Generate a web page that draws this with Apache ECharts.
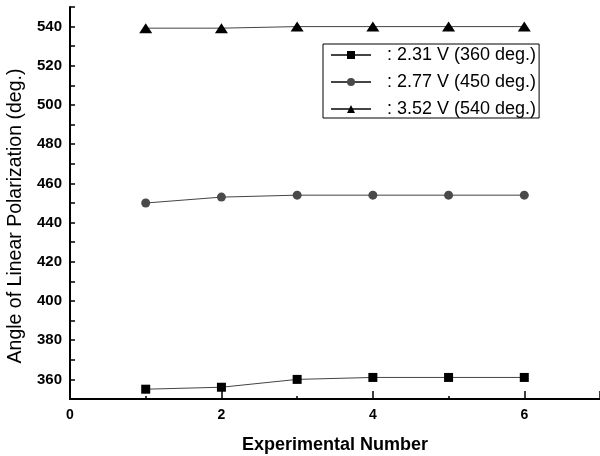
<!DOCTYPE html>
<html>
<head>
<meta charset="utf-8">
<script src="https://cdn.jsdelivr.net/npm/echarts@6/dist/echarts.min.js"></script>
<style>html,body{margin:0;padding:0;background:#fff}#c{width:600px;height:456px}</style>
</head>
<body>
<div id="c"></div>
<script>
var experiments = [1, 2, 3, 4, 5, 6];
var seriesNames = [': 2.31 V (360 deg.)', ': 2.77 V (450 deg.)', ': 3.52 V (540 deg.)'];
var values231 = [355, 356, 360, 361, 361, 361];
var values277 = [450, 453, 454, 454, 454, 454];
var values352 = [539.2, 539.2, 540, 540, 540, 540];
var xTickLabels = ['0', '2', '4', '6'];
var yTickLabels = ['360', '380', '400', '420', '440', '460', '480', '500', '520', '540'];

function pairs(vals) { return experiments.map(function (x, i) { return [x, vals[i]]; }); }

var FONT = '"Liberation Sans", Arial, sans-serif';
var chart = echarts.init(document.getElementById('c'), null, {renderer: 'canvas'});
var lineStyle = {color: '#444', width: 1};
chart.setOption({
  animation: false,
  backgroundColor: '#fff',
  grid: {left: 70, right: 0, top: 7, bottom: 57, containLabel: false, outerBoundsMode: 'none'},
  legend: {
    orient: 'vertical', left: 323, top: 44,
    padding: [2, 3, 0, 7],
    borderColor: '#000', borderWidth: 1,
    itemWidth: 40, itemHeight: 10, itemGap: 9,
    textStyle: {fontFamily: FONT, fontSize: 18, color: '#000', lineHeight: 16, padding: [0, 0, 0, 11]},
    data: seriesNames
  },
  xAxis: [{
    type: 'value', min: 0, max: 7, interval: 1,
    name: 'Experimental Number', nameLocation: 'middle', nameGap: 37,
    nameTextStyle: {fontFamily: FONT, fontSize: 18, fontWeight: 'bold', color: '#000'},
    axisLine: {show: true, lineStyle: {color: '#000', width: 2}},
    axisTick: {show: true, inside: true, length: 3, lineStyle: {color: '#000', width: 1.5}},
    axisLabel: {
      fontFamily: FONT, fontSize: 14, fontWeight: 'bold', color: '#000', margin: 9,
      formatter: function (v) { var s = String(v); return xTickLabels.indexOf(s) >= 0 ? s : ''; }
    },
    splitLine: {show: false}
  }, {
    type: 'value', min: 0, max: 7, interval: 2, position: 'bottom',
    axisLine: {show: false},
    axisTick: {show: true, inside: true, length: 8, lineStyle: {color: '#000', width: 1.5}},
    axisLabel: {show: false},
    splitLine: {show: false}
  }],
  yAxis: {
    type: 'value', min: 350, max: 550, interval: 10,
    name: 'Angle of Linear Polarization (deg.)', nameLocation: 'middle', nameGap: 41,
    nameTextStyle: {fontFamily: FONT, fontSize: 19.5, color: '#000', padding: [0, 26, 0, 0]},
    axisLine: {show: true, lineStyle: {color: '#000', width: 2}},
    axisTick: {show: true, inside: true, length: 5, lineStyle: {color: '#000', width: 1.5}},
    axisLabel: {
      fontFamily: FONT, fontSize: 15, fontWeight: 'bold', color: '#000', margin: 8,
      formatter: function (v) { var s = String(v); return yTickLabels.indexOf(s) >= 0 ? s : ''; }
    },
    splitLine: {show: false}
  },
  series: [{
    name: seriesNames[0], type: 'line', data: pairs(values231),
    symbol: 'rect', symbolSize: 9, itemStyle: {color: '#000'}, lineStyle: lineStyle
  }, {
    name: seriesNames[1], type: 'line', data: pairs(values277),
    symbol: 'circle', symbolSize: 9, itemStyle: {color: '#4a4a4a'}, lineStyle: lineStyle
  }, {
    name: seriesNames[2], type: 'line', data: pairs(values352),
    symbol: 'triangle', symbolSize: [13, 10], itemStyle: {color: '#000'}, lineStyle: lineStyle
  }]
});
</script>
</body>
</html>
